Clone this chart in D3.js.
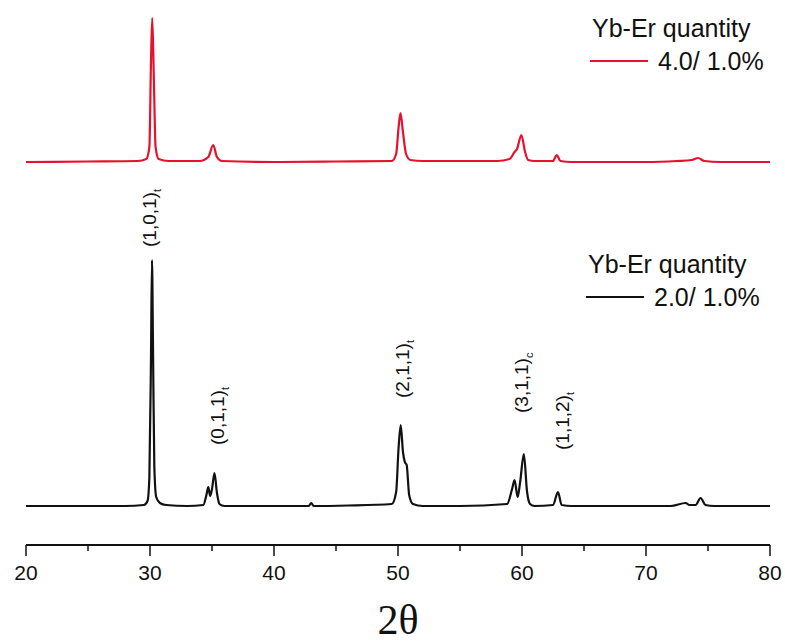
<!DOCTYPE html>
<html lang="en">
<head>
  <meta charset="UTF-8">
  <title>XRD patterns</title>
  <script src="https://d3js.org/d3.v7.min.js"></script>
  <style>
    body { margin: 0; background: #fff; }
    svg { display: block; }
    text { font-family: "Liberation Sans", Arial, sans-serif; fill: #111; }
  </style>
</head>
<body>
<div id="chart"></div>
<script>
  // 2theta / intensity (arbitrary units, above each trace's baseline)
  const blackTrace = [
    [20, 1], [22, 1], [25, 1], [28, 1], [29.5, 2], [29.8, 6], [29.95, 30], [30.08, 150], [30.16, 247],
    [30.25, 150], [30.35, 40], [30.5, 10], [30.8, 4], [31.3, 2], [33, 1], [34.3, 2], [34.55, 12],
    [34.7, 20], [34.85, 11], [35.0, 18], [35.2, 34], [35.4, 14], [35.6, 3], [36, 1], [40, 1],
    [42.8, 1], [43.0, 4], [43.2, 1], [46, 1.5], [49.5, 3], [49.85, 15], [50.05, 60], [50.22, 82],
    [50.4, 55], [50.55, 45], [50.7, 42], [50.9, 12], [51.2, 3], [52, 1], [55, 1], [58.8, 3],
    [59.2, 18], [59.4, 27], [59.65, 10], [59.85, 25], [60.15, 53], [60.4, 16], [60.65, 3], [61, 1],
    [62.5, 2], [62.9, 15], [63.2, 2], [64, 1], [68, 1], [72, 1], [73.2, 4], [73.5, 2], [74.0, 2],
    [74.4, 9], [74.8, 2], [75.5, 1], [80, 1]
  ];

  const redTrace = [
    [20, 0], [25, 0.5], [29, 1], [29.7, 3], [29.95, 15], [30.08, 100], [30.18, 144], [30.3, 90],
    [30.45, 15], [30.7, 3], [31.5, 1], [34, 1], [34.7, 5], [35.1, 17], [35.4, 5], [35.8, 1],
    [40, 0], [45, 0.5], [49.5, 1], [49.85, 8], [50.05, 35], [50.2, 49], [50.4, 30], [50.65, 8],
    [51, 2], [52, 1], [58, 1], [59, 3], [59.4, 10], [59.6, 13], [59.95, 27], [60.25, 10],
    [60.5, 2], [61, 1], [62.5, 1], [62.8, 7], [63.1, 1], [64, 0], [70, 0], [72.5, 1], [73.7, 2],
    [74.2, 4], [74.7, 1], [76, 0], [80, 0]
  ];

  const redOffset = 345;

  const peakNames = ["(1,0,1)", "(0,1,1)", "(2,1,1)", "(3,1,1)", "(1,1,2)"];
  const peakSubs = ["t", "t", "t", "c", "t"];
  const peakTheta = [29.92, 35.4, 50.3, 59.9, 63.2];
  const peakLabelLevel = [260, 62, 109, 94, 57];

  const xTicks = [20, 30, 40, 50, 60, 70, 80];
  const xMinorTicks = [25, 35, 45, 55, 65, 75];

  const legendTitle = "Yb-Er quantity";
  const legendRed = "4.0/ 1.0%";
  const legendBlack = "2.0/ 1.0%";

  const width = 785, height = 642;
  const svg = d3.select("#chart").append("svg").attr("width", width).attr("height", height);

  const x = d3.scaleLinear().domain([20, 80]).range([26, 770]);
  const y = d3.scaleLinear().domain([0, 490]).range([507, 17]);

  const line = d3.line().x(d => x(d[0])).y(d => y(d[1])).curve(d3.curveMonotoneX);

  svg.append("path")
    .attr("d", line(blackTrace))
    .attr("fill", "none").attr("stroke", "#111").attr("stroke-width", 2.2)
    .attr("stroke-linejoin", "round");

  svg.append("path")
    .attr("d", line(redTrace.map(d => [d[0], d[1] + redOffset])))
    .attr("fill", "none").attr("stroke", "#e8112d").attr("stroke-width", 2.2)
    .attr("stroke-linejoin", "round");

  // x axis
  const axisY = 545;
  const axis = svg.append("g").attr("transform", `translate(0,${axisY})`);
  axis.append("line").attr("x1", x(20)).attr("x2", x(80)).attr("stroke", "#111").attr("stroke-width", 2);
  axis.selectAll(".major").data(xTicks).enter().append("line")
    .attr("x1", d => x(d)).attr("x2", d => x(d)).attr("y1", 0).attr("y2", 11)
    .attr("stroke", "#111").attr("stroke-width", 1.5);
  axis.selectAll(".minor").data(xMinorTicks).enter().append("line")
    .attr("x1", d => x(d)).attr("x2", d => x(d)).attr("y1", 0).attr("y2", 6)
    .attr("stroke", "#111").attr("stroke-width", 1.5);
  axis.selectAll(".tl").data(xTicks).enter().append("text")
    .attr("x", d => x(d)).attr("y", 35)
    .attr("text-anchor", "middle").attr("font-size", 21)
    .text(d => d);

  svg.append("text")
    .attr("x", x(50)).attr("y", 634)
    .attr("text-anchor", "middle")
    .style("font-family", "'Liberation Serif', 'Times New Roman', serif")
    .attr("font-size", 42)
    .text("2θ");

  // peak labels
  peakNames.forEach((name, i) => {
    const t = svg.append("text")
      .attr("transform", `translate(${x(peakTheta[i]) + 7},${y(peakLabelLevel[i])}) rotate(-90)`)
      .attr("font-size", 19);
    t.append("tspan").text(name);
    t.append("tspan").attr("font-size", 11).attr("dy", 5).text(peakSubs[i]);
  });

  // legends
  function legend(tx, ty, color, label) {
    const g = svg.append("g").attr("transform", `translate(${tx},${ty})`);
    g.append("text").attr("x", 0).attr("y", 0).attr("font-size", 25).text(legendTitle);
    g.append("line").attr("x1", -2).attr("x2", 56).attr("y1", 24).attr("y2", 24)
      .attr("stroke", color).attr("stroke-width", 2);
    g.append("text").attr("x", 66).attr("y", 33).attr("font-size", 25).text(label);
  }
  legend(592, 37, "#e8112d", legendRed);
  legend(588, 273, "#111", legendBlack);
</script>
</body>
</html>
